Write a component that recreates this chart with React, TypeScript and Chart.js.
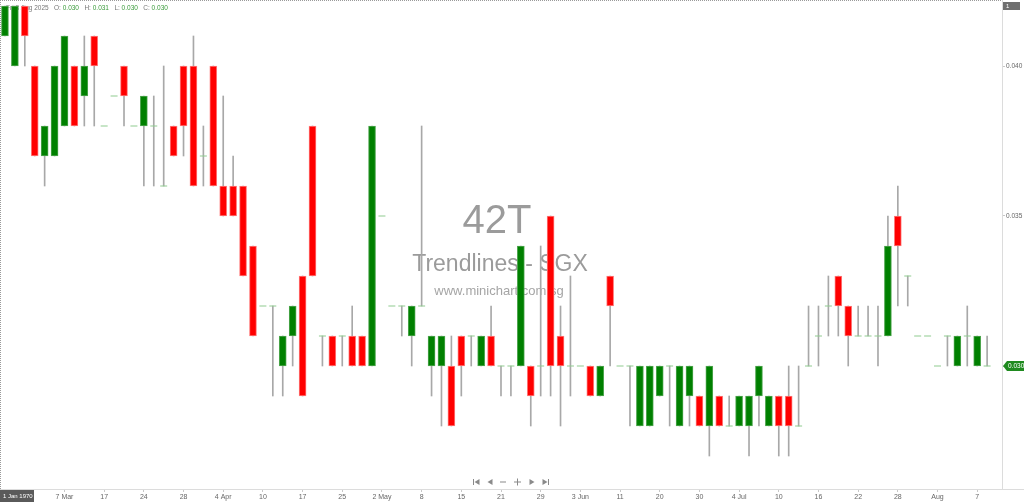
import { useEffect, useRef } from 'react';
import { Chart, registerables } from 'chart.js';

Chart.register(...registerables);

// daily OHLC, 42T (Trendlines) on SGX
const openPrices = [
  0.041, 0.040, 0.042, 0.040, 0.037, 0.037, 0.038, 0.040, 0.039, 0.041,
  0.038, 0.039, 0.040, 0.038, 0.038, 0.038, 0.036, 0.038, 0.040, 0.040,
  0.037, 0.040, 0.036, 0.036, 0.036, 0.034, 0.032, 0.032, 0.030, 0.031,
  0.033, 0.038, 0.031, 0.031, 0.031, 0.031, 0.031, 0.030, 0.035, 0.032,
  0.032, 0.031, 0.032, 0.030, 0.030, 0.030, 0.031, 0.031, 0.030, 0.031,
  0.030, 0.030, 0.030, 0.030, 0.030, 0.035, 0.031, 0.030, 0.030, 0.030,
  0.029, 0.033, 0.030, 0.030, 0.028, 0.028, 0.029, 0.030, 0.028, 0.029,
  0.029, 0.028, 0.029, 0.028, 0.028, 0.028, 0.029, 0.028, 0.029, 0.029,
  0.028, 0.030, 0.031, 0.032, 0.033, 0.032, 0.031, 0.031, 0.031, 0.031,
  0.035, 0.033, 0.031, 0.031, 0.030, 0.031, 0.030, 0.031, 0.030, 0.030,
];
const highPrices = [
  0.042, 0.042, 0.042, 0.040, 0.038, 0.040, 0.041, 0.040, 0.041, 0.041,
  0.038, 0.039, 0.040, 0.038, 0.039, 0.039, 0.040, 0.038, 0.040, 0.041,
  0.038, 0.040, 0.039, 0.037, 0.036, 0.034, 0.032, 0.032, 0.031, 0.032,
  0.033, 0.038, 0.031, 0.031, 0.031, 0.032, 0.031, 0.038, 0.035, 0.032,
  0.032, 0.032, 0.038, 0.031, 0.031, 0.031, 0.031, 0.031, 0.031, 0.032,
  0.030, 0.030, 0.034, 0.030, 0.034, 0.035, 0.032, 0.033, 0.030, 0.030,
  0.030, 0.033, 0.030, 0.030, 0.030, 0.030, 0.030, 0.030, 0.030, 0.030,
  0.029, 0.030, 0.029, 0.029, 0.029, 0.029, 0.030, 0.029, 0.029, 0.030,
  0.030, 0.032, 0.032, 0.033, 0.033, 0.032, 0.032, 0.032, 0.032, 0.035,
  0.036, 0.033, 0.031, 0.031, 0.030, 0.031, 0.031, 0.032, 0.031, 0.031,
];
const lowPrices = [
  0.041, 0.040, 0.040, 0.037, 0.036, 0.037, 0.038, 0.038, 0.038, 0.038,
  0.038, 0.039, 0.038, 0.038, 0.036, 0.036, 0.036, 0.037, 0.037, 0.036,
  0.036, 0.036, 0.035, 0.035, 0.033, 0.031, 0.032, 0.029, 0.029, 0.030,
  0.029, 0.033, 0.030, 0.030, 0.030, 0.030, 0.030, 0.030, 0.035, 0.032,
  0.031, 0.030, 0.032, 0.029, 0.028, 0.028, 0.029, 0.030, 0.030, 0.030,
  0.029, 0.029, 0.030, 0.028, 0.029, 0.029, 0.028, 0.029, 0.030, 0.029,
  0.029, 0.030, 0.030, 0.028, 0.028, 0.028, 0.029, 0.028, 0.028, 0.028,
  0.028, 0.027, 0.028, 0.028, 0.028, 0.027, 0.028, 0.028, 0.027, 0.027,
  0.028, 0.030, 0.030, 0.031, 0.031, 0.030, 0.031, 0.031, 0.030, 0.031,
  0.032, 0.032, 0.031, 0.031, 0.030, 0.030, 0.030, 0.030, 0.030, 0.030,
];
const closePrices = [
  0.042, 0.042, 0.041, 0.037, 0.038, 0.040, 0.041, 0.038, 0.040, 0.040,
  0.038, 0.039, 0.039, 0.038, 0.039, 0.038, 0.036, 0.037, 0.038, 0.036,
  0.037, 0.036, 0.035, 0.035, 0.033, 0.031, 0.032, 0.032, 0.031, 0.032,
  0.029, 0.033, 0.031, 0.030, 0.031, 0.030, 0.030, 0.038, 0.035, 0.032,
  0.032, 0.032, 0.032, 0.031, 0.031, 0.028, 0.030, 0.031, 0.031, 0.030,
  0.030, 0.030, 0.034, 0.029, 0.030, 0.030, 0.030, 0.030, 0.030, 0.029,
  0.030, 0.032, 0.030, 0.030, 0.030, 0.030, 0.030, 0.030, 0.030, 0.030,
  0.028, 0.030, 0.028, 0.028, 0.029, 0.029, 0.030, 0.029, 0.028, 0.028,
  0.028, 0.030, 0.031, 0.032, 0.032, 0.031, 0.031, 0.031, 0.031, 0.034,
  0.034, 0.033, 0.031, 0.031, 0.030, 0.031, 0.031, 0.031, 0.031, 0.030,
];

// a date label sits on every 4th bar, starting at bar 2
const tickLabels = [
  '25', '7 Mar', '17', '24', '28', '4 Apr', '10', '17', '25', '2 May', '8', '15', '21',
  '29', '3 Jun', '11', '20', '30', '4 Jul', '10', '16', '22', '28', 'Aug', '7',
];
const priceTicks = [0.030, 0.035, 0.040];
const headerDate = 'Fri 8 Aug 2025';

const FONT = '"Liberation Sans", Arial, sans-serif';
const UP = '#008000';
const DOWN = '#ff0000';

const decorPlugin = {
  id: 'decor',
  beforeDatasetsDraw(chart: any) {
    const { ctx, chartArea } = chart;
    const cx = (chartArea.left + chartArea.right) / 2;
    ctx.save();
    // watermark
    ctx.textAlign = 'center';
    ctx.textBaseline = 'alphabetic';
    ctx.fillStyle = '#9b9b9b';
    ctx.font = `40px ${FONT}`;
    ctx.fillText('42T', cx - 4, 233);
    ctx.font = `23px ${FONT}`;
    ctx.fillText('Trendlines - SGX', cx - 1, 271);
    ctx.fillStyle = '#a5a5a5';
    ctx.font = `13px ${FONT}`;
    ctx.fillText('www.minichart.com.sg', cx - 2, 295);

    // header line with last bar values
    const n = closePrices.length - 1;
    ctx.textAlign = 'left';
    ctx.textBaseline = 'middle';
    ctx.font = `6.5px ${FONT}`;
    const parts: [string, string][] = [
      [headerDate + '   O: ', '#777'],
      [openPrices[n].toFixed(3), '#3a9a3a'],
      ['   H: ', '#777'],
      [highPrices[n].toFixed(3), '#3a9a3a'],
      ['   L: ', '#777'],
      [lowPrices[n].toFixed(3), '#3a9a3a'],
      ['   C: ', '#777'],
      [closePrices[n].toFixed(3), '#3a9a3a'],
    ];
    let x = 6;
    for (const [t, c] of parts) {
      ctx.fillStyle = c;
      ctx.fillText(t, x, 8);
      x += ctx.measureText(t).width;
    }
    ctx.restore();
  },
  afterDraw(chart: any) {
    const { ctx, chartArea, width } = chart;
    ctx.save();
    // dotted frame top and left
    ctx.strokeStyle = '#9a9a9a';
    ctx.lineWidth = 1;
    ctx.setLineDash([1, 1]);
    ctx.beginPath();
    ctx.moveTo(0, 0.5);
    ctx.lineTo(chartArea.right, 0.5);
    ctx.moveTo(0.5, 0);
    ctx.lineTo(0.5, chartArea.bottom);
    ctx.stroke();
    ctx.setLineDash([]);
    // bottom line across
    ctx.strokeStyle = '#dcdcdc';
    ctx.beginPath();
    ctx.moveTo(0, chartArea.bottom + 0.5);
    ctx.lineTo(width, chartArea.bottom + 0.5);
    ctx.stroke();

    // last price tag
    const n = closePrices.length - 1;
    const py = chart.scales.y.getPixelForValue(closePrices[n]);
    const tx = chartArea.right + 1;
    ctx.fillStyle = '#1f8a1f';
    ctx.beginPath();
    ctx.moveTo(tx, py);
    ctx.lineTo(tx + 4, py - 5);
    ctx.lineTo(width, py - 5);
    ctx.lineTo(width, py + 5);
    ctx.lineTo(tx + 4, py + 5);
    ctx.closePath();
    ctx.fill();
    ctx.fillStyle = '#ffffff';
    ctx.font = `6.5px ${FONT}`;
    ctx.textBaseline = 'middle';
    ctx.textAlign = 'left';
    ctx.fillText(closePrices[n].toFixed(3), tx + 5, py + 0.5);

    // small tag top right
    ctx.fillStyle = '#6f6f6f';
    ctx.fillRect(chartArea.right + 1, 2, 17, 8);
    ctx.fillStyle = '#ffffff';
    ctx.font = `6px ${FONT}`;
    ctx.fillText('1', chartArea.right + 4, 6);

    // crosshair date tag bottom left
    ctx.fillStyle = '#5a5a5a';
    ctx.fillRect(0, chartArea.bottom + 1, 34, 13);
    ctx.fillStyle = '#ffffff';
    ctx.font = `6px ${FONT}`;
    ctx.fillText('1 Jan 1970', 3, chartArea.bottom + 7.5);

    // navigation buttons
    ctx.fillStyle = '#8a8a8a';
    const ny = chartArea.bottom - 7;
    const tri = (x0: number, dir: number) => {
      ctx.beginPath();
      ctx.moveTo(x0 + (dir > 0 ? -2.5 : 2.5), ny - 3);
      ctx.lineTo(x0 + (dir > 0 ? 2.5 : -2.5), ny);
      ctx.lineTo(x0 + (dir > 0 ? -2.5 : 2.5), ny + 3);
      ctx.closePath();
      ctx.fill();
    };
    tri(477, -1);
    ctx.fillRect(473, ny - 3, 1, 6);
    tri(490, -1);
    ctx.fillRect(500, ny - 0.5, 6, 1);
    ctx.fillRect(514, ny - 0.5, 7, 1);
    ctx.fillRect(517, ny - 3.5, 1, 7);
    tri(532, 1);
    tri(545, 1);
    ctx.fillRect(548, ny - 3, 1, 6);
    ctx.restore();
  },
};

const App = () => {
  const chartRef = useRef<HTMLCanvasElement>(null);
  const chartInstanceRef = useRef<Chart | null>(null);

  useEffect(() => {
    if (!chartRef.current) return;
    const ctx = chartRef.current.getContext('2d');
    if (!ctx) return;

    if (chartInstanceRef.current) {
      chartInstanceRef.current.destroy();
    }

    // one empty slot after the last bar, as on the original
    const labels = Array.from({ length: closePrices.length + 1 }, (_, i) => String(i));

    const wickData = lowPrices.map((l, i) => (highPrices[i] > l ? [l, highPrices[i]] : null));
    const bodyData = openPrices.map((o, i) => (o !== closePrices[i] ? [o, closePrices[i]] : null));
    const dojiData = openPrices.map((o, i) => (o === closePrices[i] ? o : null));
    const bodyColors = openPrices.map((o, i) => (closePrices[i] > o ? UP : DOWN));
    const bodyBorders = openPrices.map((o, i) => (closePrices[i] > o ? '#4fa64f' : '#ff7a7a'));

    chartInstanceRef.current = new Chart(ctx, {
      type: 'bar',
      data: {
        labels,
        datasets: [
          {
            type: 'line',
            label: 'doji',
            data: dojiData as any,
            showLine: false,
            pointStyle: 'line',
            pointRadius: 3.5,
            pointBorderWidth: 1,
            pointBorderColor: '#8fcb8f',
            borderColor: '#8fcb8f',
            order: 0,
          },
          {
            type: 'bar',
            label: 'body',
            data: bodyData as any,
            backgroundColor: bodyColors,
            borderColor: bodyBorders,
            borderWidth: 1,
            borderSkipped: false,
            barThickness: 7,
            grouped: false,
            order: 1,
          },
          {
            type: 'bar',
            label: 'wick',
            data: wickData as any,
            backgroundColor: '#a8a8a8',
            borderWidth: 0,
            barThickness: 1,
            grouped: false,
            order: 2,
          },
        ],
      },
      options: {
        responsive: true,
        maintainAspectRatio: false,
        animation: false,
        layout: { padding: 0, autoPadding: false },
        plugins: {
          legend: { display: false },
          tooltip: { enabled: false },
        },
        scales: {
          x: {
            type: 'category',
            offset: true,
            grid: {
              display: true,
              drawOnChartArea: false,
              offset: false,
              tickLength: 3,
              color: '#c8c8c8',
            },
            border: { color: '#dcdcdc' },
            afterBuildTicks: (scale: any) => {
              scale.ticks = scale.ticks.filter((t: any) => t.value >= 2 && (t.value - 2) % 4 === 0);
            },
            afterFit: (scale: any) => {
              scale.height = 13;
              scale.paddingLeft = 0;
              scale.paddingRight = 0;
            },
            ticks: {
              autoSkip: false,
              maxRotation: 0,
              padding: 1,
              color: '#666',
              font: { family: FONT, size: 7 },
              callback: (value: any) => tickLabels[(Number(value) - 2) / 4] ?? '',
            },
          },
          y: {
            type: 'linear',
            position: 'right',
            min: 0.0259,
            max: 0.0422,
            grid: {
              display: true,
              drawOnChartArea: false,
              tickLength: 3,
              color: '#c8c8c8',
            },
            border: { color: '#dcdcdc' },
            afterBuildTicks: (scale: any) => {
              scale.ticks = priceTicks.map((v) => ({ value: v }));
            },
            afterFit: (scale: any) => {
              scale.width = 22;
              scale.paddingTop = 0;
              scale.paddingBottom = 0;
            },
            ticks: {
              padding: 1,
              color: '#666',
              font: { family: FONT, size: 6.5 },
              callback: (value: any) => Number(value).toFixed(3),
            },
          },
        },
      },
      plugins: [decorPlugin],
    });

    return () => {
      if (chartInstanceRef.current) {
        chartInstanceRef.current.destroy();
        chartInstanceRef.current = null;
      }
    };
  }, []);

  return (
    <div style={{ position: 'fixed', left: 0, top: 0, width: 1024, height: 502, background: '#fff' }}>
      <canvas ref={chartRef}></canvas>
    </div>
  );
};

export default App;
